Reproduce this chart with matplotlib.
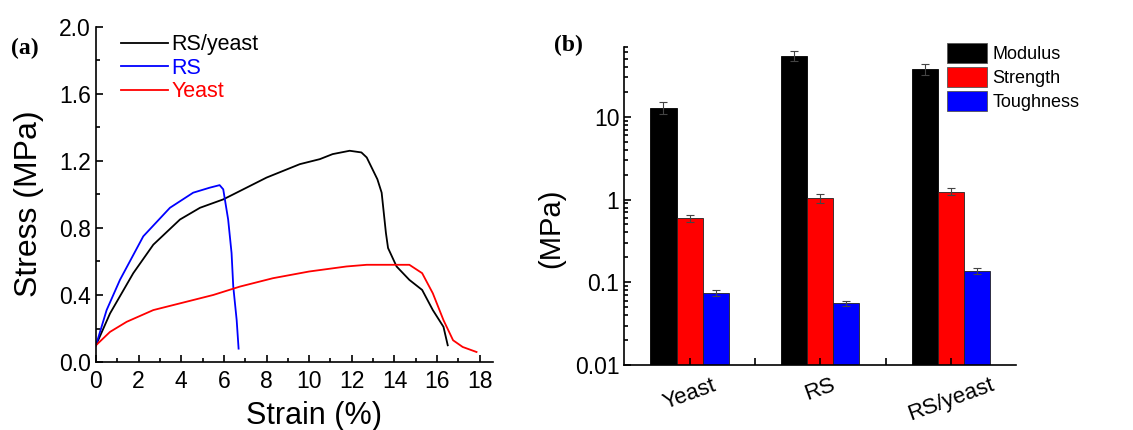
import numpy as np
import matplotlib.pyplot as plt
from matplotlib.ticker import MultipleLocator, LogLocator, NullFormatter, FixedLocator

plt.rcParams['font.family'] = ['Liberation Sans', 'DejaVu Sans']

# (a) stress-strain curves
strain_rsy = [0, 0.66, 1.75, 2.69, 3.94, 4.88, 5.97, 6.44, 8.0, 9.56, 10.5, 11.1, 11.9,
              12.45, 12.7, 13.2, 13.4, 13.6, 13.7, 14.1, 14.7, 15.3, 15.8, 16.3, 16.5]
stress_rsy = [0.10, 0.29, 0.53, 0.70, 0.85, 0.92, 0.97, 1.00, 1.10, 1.18, 1.21, 1.24, 1.26,
              1.25, 1.22, 1.09, 1.01, 0.77, 0.68, 0.57, 0.49, 0.43, 0.31, 0.21, 0.10]
strain_rs = [0, 0.5, 1.125, 2.22, 3.47, 4.56, 5.34, 5.8, 5.97, 6.2, 6.36, 6.44, 6.6, 6.69]
stress_rs = [0.10, 0.31, 0.49, 0.75, 0.92, 1.01, 1.04, 1.055, 1.03, 0.85, 0.65, 0.45, 0.25, 0.08]
strain_y = [0, 0.66, 1.44, 2.69, 3.94, 5.5, 6.75, 8.3, 10.0, 11.75, 12.7, 13.9, 14.7,
            15.3, 15.8, 16.3, 16.75, 17.2, 17.85]
stress_y = [0.10, 0.18, 0.24, 0.31, 0.35, 0.40, 0.45, 0.50, 0.54, 0.57, 0.58, 0.58, 0.58,
            0.53, 0.41, 0.25, 0.13, 0.09, 0.06]

# (b) mechanical properties
samples = ['Yeast', 'RS', 'RS/yeast']
modulus = [12.8, 54.7, 37.8]
modulus_err = [2.1, 8.1, 5.5]
strength = [0.594, 1.04, 1.25]
strength_err = [0.06, 0.12, 0.13]
toughness = [0.0743, 0.0557, 0.138]
toughness_err = [0.006, 0.0045, 0.012]

fig = plt.figure(figsize=(11.33, 4.30), dpi=100)

ax1 = fig.add_axes([0.0847, 0.158, 0.350, 0.780])
ax1.plot(strain_rsy, stress_rsy, color='black', lw=1.3, label='RS/yeast')
ax1.plot(strain_rs, stress_rs, color='#0000ff', lw=1.3, label='RS')
ax1.plot(strain_y, stress_y, color='#ff0000', lw=1.3, label='Yeast')
ax1.set_xlim(0, 18.6)
ax1.set_ylim(0, 2.0)
ax1.xaxis.set_major_locator(MultipleLocator(2))
ax1.xaxis.set_minor_locator(MultipleLocator(1))
ax1.yaxis.set_major_locator(MultipleLocator(0.4))
ax1.yaxis.set_minor_locator(MultipleLocator(0.2))
ax1.yaxis.set_major_formatter(plt.FuncFormatter(lambda v, p: f'{v:.1f}'))
ax1.tick_params(which='both', direction='in', width=1.2, labelsize=16.5)
ax1.tick_params(which='major', length=5)
ax1.tick_params(which='minor', length=3)
ax1.tick_params(axis='x', pad=6)
for s in ['top', 'right']:
    ax1.spines[s].set_visible(False)
for s in ['left', 'bottom']:
    ax1.spines[s].set_linewidth(1.2)
ax1.set_xlabel('Strain (%)', fontsize=22)
ax1.xaxis.set_label_coords(0.55, -0.115)
ax1.set_ylabel('Stress (MPa)', fontsize=23)
ax1.yaxis.set_label_coords(-0.13, 0.473)
leg1 = ax1.legend(loc='upper left', frameon=False, fontsize=15.5, handlelength=2.2,
                  handletextpad=0.15, labelspacing=0.12, borderaxespad=0.1,
                  bbox_to_anchor=(0.035, 1.01))
for txt, ln in zip(leg1.get_texts(), leg1.get_lines()):
    txt.set_color(ln.get_color())
fig.text(0.022, 0.888, '(a)', fontsize=17, fontweight='bold',
         family='Liberation Serif', ha='center', va='center')

ax2 = fig.add_axes([0.551, 0.151, 0.346, 0.740])
x = np.arange(1, len(samples) + 1)
w = 0.2
ekw = dict(ecolor='#444444', elinewidth=0.8, capsize=3, capthick=0.8)
ax2.bar(x - w, modulus, w, yerr=modulus_err, color='black', edgecolor='black',
        lw=0.6, label='Modulus', error_kw=ekw)
ax2.bar(x, strength, w, yerr=strength_err, color='#ff0000', edgecolor='#222222',
        lw=0.6, label='Strength', error_kw=ekw)
ax2.bar(x + w, toughness, w, yerr=toughness_err, color='#0000ff', edgecolor='#222222',
        lw=0.6, label='Toughness', error_kw=ekw)
ax2.set_yscale('log')
ax2.set_ylim(0.01, 70)
ax2.set_xlim(0.5, 3.5)
ax2.yaxis.set_major_locator(FixedLocator([0.01, 0.1, 1, 10]))
ax2.yaxis.set_major_formatter(plt.FuncFormatter(lambda v, p: f'{v:g}'))
ax2.yaxis.set_minor_locator(LogLocator(base=10, subs=np.arange(2, 10)))
ax2.yaxis.set_minor_formatter(NullFormatter())
ax2.set_xticks([1, 1.5, 2, 2.5, 3])
ax2.set_xticklabels(['Yeast', '', 'RS', '', 'RS/yeast'], rotation=20, ha='center')
ax2.tick_params(which='both', direction='in', width=1.2, labelsize=16.5)
ax2.tick_params(axis='x', labelsize=16)
ax2.tick_params(which='major', length=5)
ax2.tick_params(which='minor', length=3)
ax2.tick_params(axis='x', pad=7)
for s in ['top', 'right']:
    ax2.spines[s].set_visible(False)
for s in ['left', 'bottom']:
    ax2.spines[s].set_linewidth(1.2)
ax2.set_ylabel('(MPa)', fontsize=21)
ax2.yaxis.set_label_coords(-0.15, 0.43)
leg2 = ax2.legend(loc='upper left', bbox_to_anchor=(0.805, 1.035), frameon=False,
                  fontsize=13, handlelength=2.2, handleheight=1.35,
                  handletextpad=0.3, labelspacing=0.2, borderaxespad=0)
for p in leg2.get_patches():
    p.set_edgecolor('#555555')
fig.text(0.502, 0.895, '(b)', fontsize=17, fontweight='bold',
         family='Liberation Serif', ha='center', va='center')

fig.savefig('out.png', dpi=100)
